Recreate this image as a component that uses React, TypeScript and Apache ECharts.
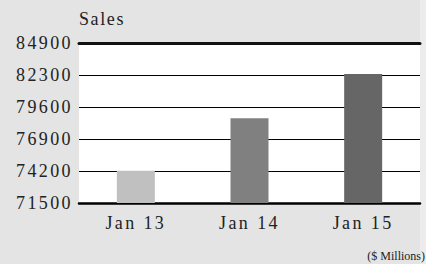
import React, { useEffect, useRef } from "react";
import * as echarts from "echarts";

const categories = ["Jan 13", "Jan 14", "Jan 15"];
const salesValues = [74200, 78600, 82300];
const barColors = ["#c0c0c0", "#808080", "#666666"];
const tickLabels = ["71500", "74200", "76900", "79600", "82300", "84900"];
const axisMin = 71500;
const axisMax = 84900;

const FONT = "'Liberation Serif', 'Times New Roman', serif";

export default function App() {
  const ref = useRef<HTMLDivElement>(null);
  useEffect(() => {
    if (!ref.current) return;
    const chart = echarts.init(ref.current, undefined, { renderer: "svg" });
    chart.setOption({
      animation: false,
      backgroundColor: "#e4e4e4",
      title: {
        text: "Sales",
        left: 79,
        top: 10,
        padding: 0,
        textStyle: { fontFamily: FONT, fontSize: 18, fontWeight: "normal", color: "#222" },
      },
      graphic: [
        {
          type: "rect",
          right: 0,
          top: 0,
          shape: { width: 6, height: 264 },
          style: { fill: "#ececec" },
          silent: true,
        },
        {
          type: "text",
          right: 1,
          bottom: 2,
          style: {
            text: "($ Millions)",
            font: `12px ${FONT}`,
            fill: "#222",
          },
        },
      ],
      grid: {
        left: 79,
        right: 6,
        top: 43,
        bottom: 61,
        show: true,
        backgroundColor: "#ffffff",
        borderWidth: 0,
      },
      xAxis: [
        {
          type: "category",
          data: categories,
          position: "bottom",
          axisLine: { show: true, lineStyle: { color: "#000", width: 2.5 } },
          axisTick: { show: false },
          axisLabel: { fontFamily: FONT, fontSize: 18, color: "#222", margin: 11 },
        },
        {
          type: "category",
          data: categories,
          position: "top",
          axisLine: { show: true, lineStyle: { color: "#111", width: 3 } },
          axisTick: { show: false },
          axisLabel: { show: false },
        },
      ],
      yAxis: [
        {
          type: "value",
          min: 0,
          max: tickLabels.length - 1,
          interval: 1,
          axisLine: { show: false },
          axisTick: { show: false },
          splitLine: { show: true, lineStyle: { color: "#000", width: 1.2 } },
          axisLabel: {
            fontFamily: FONT,
            fontSize: 18,
            color: "#222",
            margin: 6,
            formatter: (v: number) => tickLabels[Math.round(v)] ?? "",
          },
        },
        {
          type: "value",
          min: axisMin,
          max: axisMax,
          show: false,
          splitLine: { show: false },
        },
      ],
      series: [
        {
          type: "bar",
          xAxisIndex: 0,
          yAxisIndex: 1,
          barWidth: 38,
          data: salesValues.map((v, i) => ({ value: v, itemStyle: { color: barColors[i] } })),
        },
      ],
    });
    const texts = ref.current.querySelectorAll("text");
    texts.forEach((t) => {
      const s = t.textContent || "";
      if (s === "($ Millions)") return;
      if (s === "Sales") t.setAttribute("letter-spacing", "1.6px");
      else t.setAttribute("letter-spacing", "2.4px");
    });
    return () => chart.dispose();
  }, []);
  return <div ref={ref} style={{ width: 426, height: 264, position: "absolute", left: 0, top: 0 }} />;
}
